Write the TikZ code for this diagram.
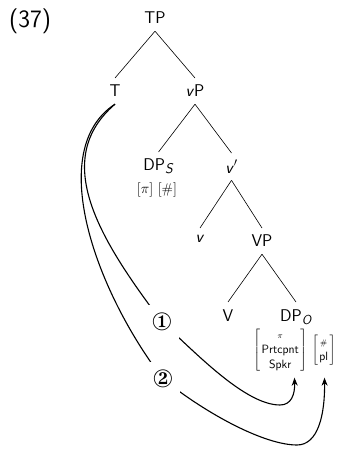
\documentclass[tikz,border=0pt]{standalone}
\usepackage{fontspec}
\usepackage{pifont}
\usetikzlibrary{arrows.meta}
\begin{document}
\begin{tikzpicture}[x=1pt,y=-1pt,
  tn/.style={font=\fontsize{17}{20}\selectfont\sffamily, anchor=north, inner xsep=1pt, inner ysep=7pt, text depth=0pt},
  br/.style={line width=0.6pt},
  mv/.style={line width=1.1pt, -{Stealth[length=8pt,width=6pt,inset=2.5pt]}},
  numlab/.style={fill=white, inner sep=7.5pt, font=\fontsize{25}{25}\selectfont}]
\useasboundingbox (0,0) rectangle (341,449);
\node[font=\fontsize{25}{30}\selectfont\sffamily, anchor=base, inner sep=0pt] (ex) at (30,28) {(37)};
\node[tn] (TP) at (155,5) {TP};
\node[tn] (T) at (115,78) {T};
\node[tn] (vP) at (195,78) {\textit{v}P};
\node[tn] (DPs) at (158.5,152) {DP\raisebox{-3pt}{\fontsize{14}{14}\selectfont\textit{S}}};
\node[tn] (vbar) at (231.5,153) {\textit{v}$'$};
\node[tn] (v) at (200,228) {\textit{v}};
\node[tn] (VP) at (262,228) {VP};
\node[tn] (V) at (228,302) {V};
\node[tn] (DPo) at (296,302) {DP\raisebox{-3pt}{\fontsize{13}{13}\selectfont\textit{O}}};
\node[anchor=base, font=\fontsize{14}{16}\selectfont, inner sep=0pt] (fs) at (157,193.5) {$[\pi]$ $[\#]$};
\node[inner xsep=0pt, inner ysep=0pt, font=\fontsize{12}{15}\selectfont\sffamily] (F) at (294.5,350)
  {$\left[\begin{array}{@{\hspace{1.5pt}}c@{\hspace{1.5pt}}}\scriptstyle\pi\\ \textsf{Prtcpnt}\\ \textsf{Spkr}\end{array}\right]\hspace{3pt}\left[\begin{array}{@{\hspace{1.5pt}}c@{\hspace{1.5pt}}}\scriptstyle\#\\ \textsf{pl}\end{array}\right]$};
\draw[br] (TP.south) -- (T.north);
\draw[br] (TP.south) -- (vP.north);
\draw[br] (vP.south) -- (DPs.north);
\draw[br] (vP.south) -- (vbar.north);
\draw[br] (vbar.south) -- (v.north);
\draw[br] (vbar.south) -- (VP.north);
\draw[br] (VP.south) -- (V.north);
\draw[br] (VP.south) -- (DPo.north);
\draw[mv] (T.south) .. controls (50,160) and (100,240) .. (162,322) node[numlab] (n1) {\ding{172}}
  .. controls (195,352) and (245,405) .. (280,405) .. controls (291,405) and (295,395) .. ([yshift=-5pt]F.south);
\draw[mv] (T.south) .. controls (45,150) and (95,290) .. (163,379) node[numlab] (n2) {\ding{173}}
  .. controls (208,415) and (265,445) .. (297,445) .. controls (318,445) and (325,415) .. ([xshift=30pt,yshift=-5pt]F.south);
\end{tikzpicture}
\end{document}
